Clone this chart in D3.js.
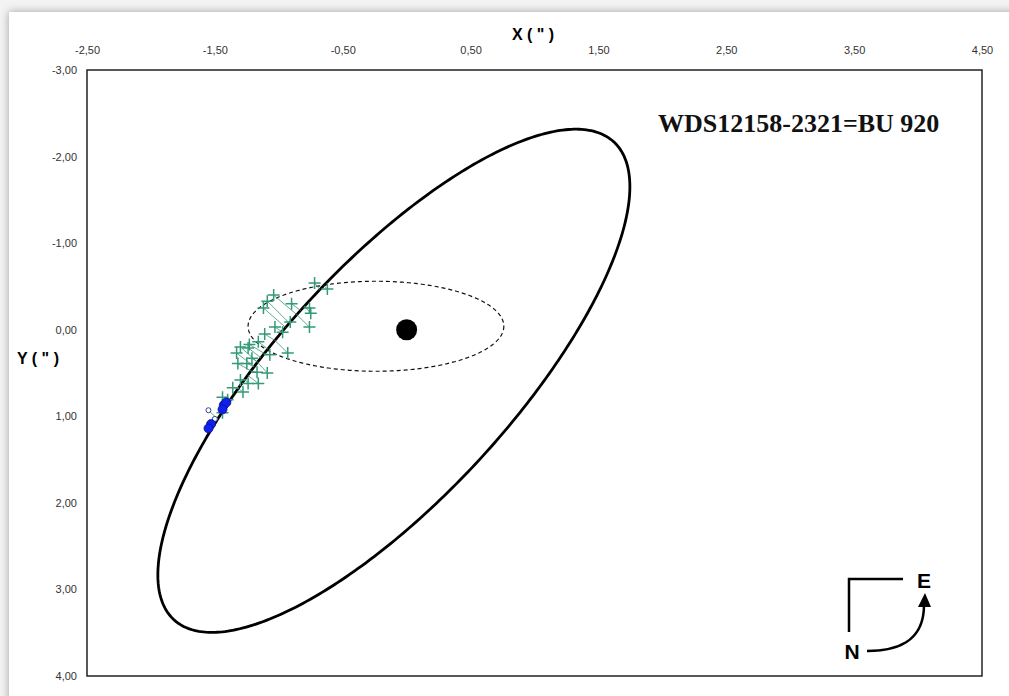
<!DOCTYPE html>
<html>
<head>
<meta charset="utf-8">
<script src="https://cdn.jsdelivr.net/npm/d3@7/dist/d3.min.js"></script>
<style>
    body { margin: 0; background: #fff; overflow: hidden; }
</style>
</head>
<body>
<div id="chart"></div>
<script>
// axis ticks (arcsec)
var xTicks = [-2.5, -1.5, -0.5, 0.5, 1.5, 2.5, 3.5, 4.5];
var yTicks = [-3, -2, -1, 0, 1, 2, 3, 4];

// micrometric measures (green crosses)
var obsX = [-0.72, -0.62, -1.04, -1.09, -0.90, -1.12, -0.76, -0.75, -0.91, -0.76, -1.03,
            -0.97, -1.11, -1.16, -1.23, -1.30, -1.33, -1.24, -1.07, -0.93, -1.25, -1.17,
            -1.09, -1.30, -1.24, -1.16, -1.36, -1.28, -1.44, -1.40, -1.44, -1.32, -1.21];
var obsY = [-0.54, -0.47, -0.40, -0.33, -0.30, -0.25, -0.25, -0.19, -0.09, -0.03, -0.03,
             0.03, 0.05, 0.14, 0.17, 0.20, 0.27, 0.21, 0.29, 0.27, 0.39, 0.49,
             0.50, 0.58, 0.62, 0.62, 0.67, 0.72, 0.78, 0.81, 0.96, 0.39, 0.33];

// speckle measures (blue dots)
var speckleX = [-1.43, -1.41, -1.44, -1.53, -1.55];
var speckleY = [0.87, 0.84, 0.92, 1.09, 1.14];

// visual measures (open circles)
var visualX = [-1.55, -1.50];
var visualY = [0.93, 1.03];

// orbit (centre and conjugate semi-axes, arcsec)
var orbitCenter = [-0.10, 0.59];
var orbitAxisA = [1.72, -2.76];
var orbitAxisB = [0.67, 0.91];

// dashed ellipse
var dashCenter = [-0.24, -0.04];
var dashRadius = [1.00, 0.52];

var primary = [0, 0];
var title = "WDS12158-2321=BU 920";

var width = 1009, height = 696;

var x = d3.scaleLinear().domain([-2.5, 4.5]).range([87, 982]);
var y = d3.scaleLinear().domain([-3, 4]).range([70, 676]);

var fmt = d3.formatLocale({decimal: ",", thousands: ".", grouping: [3], currency: ["", ""], minus: "-"}).format(".2f");

var svg = d3.select("#chart").append("svg")
    .attr("width", width)
    .attr("height", height);

var defs = svg.append("defs");
var shadow = defs.append("filter").attr("id", "shadow")
    .attr("x", "-5%").attr("y", "-5%").attr("width", "110%").attr("height", "110%");
shadow.append("feDropShadow")
    .attr("dx", 0).attr("dy", 0).attr("stdDeviation", 4)
    .attr("flood-color", "#000").attr("flood-opacity", 0.35);

svg.append("rect").attr("width", width).attr("height", height).attr("fill", "#f3f3f3");
svg.append("rect")
    .attr("x", 9).attr("y", 12)
    .attr("width", 1100).attr("height", 800)
    .attr("fill", "#fff")
    .attr("filter", "url(#shadow)");

// plot frame
svg.append("rect")
    .attr("x", x(-2.5)).attr("y", y(-3))
    .attr("width", x(4.5) - x(-2.5)).attr("height", y(4) - y(-3))
    .attr("fill", "none")
    .attr("stroke", "#222")
    .attr("stroke-width", 1.5);

// axes
var xAxis = svg.append("g")
    .attr("transform", "translate(0," + y(-3) + ")")
    .call(d3.axisTop(x).tickValues(xTicks).tickSize(0).tickPadding(16).tickFormat(fmt));
var yAxis = svg.append("g")
    .attr("transform", "translate(" + x(-2.5) + ",0)")
    .call(d3.axisLeft(y).tickValues(yTicks).tickSize(0).tickPadding(10).tickFormat(fmt));
svg.selectAll(".domain").remove();
svg.selectAll(".tick text")
    .style("font-family", "Arial, 'Liberation Sans', sans-serif")
    .style("font-size", "11px")
    .attr("fill", "#333");

svg.append("text")
    .attr("x", 533).attr("y", 40)
    .attr("text-anchor", "middle")
    .style("font-family", "Arial, 'Liberation Sans', sans-serif")
    .style("font-size", "16px")
    .style("font-weight", "bold")
    .text("X ( \" )");

svg.append("text")
    .attr("x", 38).attr("y", 364)
    .attr("text-anchor", "middle")
    .style("font-family", "Arial, 'Liberation Sans', sans-serif")
    .style("font-size", "16px")
    .style("font-weight", "bold")
    .text("Y ( \" )");

svg.append("text")
    .attr("x", 658).attr("y", 132)
    .style("font-family", "'Times New Roman', 'Liberation Serif', serif")
    .style("font-size", "26px")
    .style("font-weight", "bold")
    .attr("fill", "#111")
    .text(title);

// orbit
var angles = d3.range(0, 361, 1);
var orbitPts = angles.map(function(a) {
    var t = a * Math.PI / 180;
    return [orbitCenter[0] + Math.cos(t) * orbitAxisA[0] + Math.sin(t) * orbitAxisB[0],
            orbitCenter[1] + Math.cos(t) * orbitAxisA[1] + Math.sin(t) * orbitAxisB[1]];
});
var dashPts = angles.map(function(a) {
    var t = a * Math.PI / 180;
    return [dashCenter[0] + Math.cos(t) * dashRadius[0], dashCenter[1] + Math.sin(t) * dashRadius[1]];
});

var line = d3.line()
    .x(function(d) { return x(d[0]); })
    .y(function(d) { return y(d[1]); });

svg.append("path")
    .attr("d", line(dashPts))
    .attr("fill", "none")
    .attr("stroke", "#111")
    .attr("stroke-width", 1.2)
    .attr("stroke-dasharray", "4,3");

svg.append("path")
    .attr("d", line(orbitPts))
    .attr("fill", "none")
    .attr("stroke", "#000")
    .attr("stroke-width", 2.8);

// residual lines to the orbit
function nearest(px, py) {
    var best = null, bd = Infinity;
    orbitPts.forEach(function(p) {
        var dx = x(p[0]) - x(px), dy = y(p[1]) - y(py);
        var d = dx * dx + dy * dy;
        if (d < bd) { bd = d; best = p; }
    });
    return best;
}

var green = "#339977";
var obs = obsX.map(function(v, i) { return {x: v, y: obsY[i]}; });
var speckle = speckleX.map(function(v, i) { return {x: v, y: speckleY[i]}; });
var visual = visualX.map(function(v, i) { return {x: v, y: visualY[i]}; });

svg.append("g").selectAll("line")
    .data(obs.concat(visual))
    .enter().append("line")
    .attr("x1", function(d) { return x(d.x); })
    .attr("y1", function(d) { return y(d.y); })
    .attr("x2", function(d) { return x(nearest(d.x, d.y)[0]); })
    .attr("y2", function(d) { return y(nearest(d.x, d.y)[1]); })
    .attr("stroke", green)
    .attr("stroke-width", 0.8);

var cross = d3.symbol().type(d3.symbolCross);
svg.append("g").selectAll("path")
    .data(obs)
    .enter().append("path")
    .attr("d", function(d) {
        var px = x(d.x), py = y(d.y);
        return "M" + (px - 6) + "," + py + "H" + (px + 6) + "M" + px + "," + (py - 6) + "V" + (py + 6);
    })
    .attr("stroke", green)
    .attr("stroke-width", 1.5);

svg.append("g").selectAll("circle")
    .data(visual)
    .enter().append("circle")
    .attr("cx", function(d) { return x(d.x); })
    .attr("cy", function(d) { return y(d.y); })
    .attr("r", 2.5)
    .attr("fill", "#fff")
    .attr("stroke", "#334499")
    .attr("stroke-width", 1);

svg.append("g").selectAll("circle")
    .data(speckle)
    .enter().append("circle")
    .attr("cx", function(d) { return x(d.x); })
    .attr("cy", function(d) { return y(d.y); })
    .attr("r", 4.5)
    .attr("fill", "#1020ee")
    .attr("stroke", "#0a1090")
    .attr("stroke-width", 0.8);

// primary star
svg.append("circle")
    .attr("cx", x(primary[0]))
    .attr("cy", y(primary[1]))
    .attr("r", 10.5)
    .attr("fill", "#000");

// orientation mark
var cx0 = x(4.5) - 133, cy0 = y(4) - 97;
var compass = svg.append("g").attr("transform", "translate(" + cx0 + "," + cy0 + ")");
compass.append("path")
    .attr("d", "M54,0H0V53")
    .attr("fill", "none")
    .attr("stroke", "#000")
    .attr("stroke-width", 2.5);
compass.append("path")
    .attr("d", "M18,72C45,72 75,65 75,26")
    .attr("fill", "none")
    .attr("stroke", "#000")
    .attr("stroke-width", 2.5);
compass.append("path")
    .attr("d", "M76,14L82,28L69,28Z")
    .attr("fill", "#000");
compass.append("text")
    .attr("x", 75).attr("y", 9)
    .attr("text-anchor", "middle")
    .style("font-family", "Arial, 'Liberation Sans', sans-serif")
    .style("font-size", "21px")
    .style("font-weight", "bold")
    .text("E");
compass.append("text")
    .attr("x", 3).attr("y", 80)
    .attr("text-anchor", "middle")
    .style("font-family", "Arial, 'Liberation Sans', sans-serif")
    .style("font-size", "21px")
    .style("font-weight", "bold")
    .text("N");
</script>
</body>
</html>
